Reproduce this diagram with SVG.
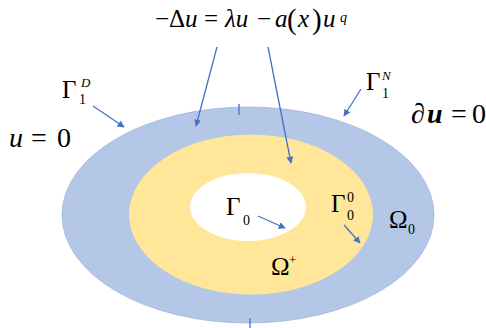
<svg xmlns="http://www.w3.org/2000/svg" width="486" height="328" viewBox="0 0 486 328">
<style>
.t{font-family:"Liberation Serif","Times New Roman",serif;fill:#000}
.i{font-style:italic}
.c{stroke:#4472c4;stroke-width:1.3;fill:none}
</style>
<defs>
<marker id="ah" viewBox="0 0 10 10" refX="9" refY="5" markerWidth="7" markerHeight="7" markerUnits="userSpaceOnUse" orient="auto">
<path d="M0,0 L10,5 L0,10 z" fill="#4472c4"/>
</marker>
</defs>
<rect width="486" height="328" fill="#fff"/>
<g id="outer"><ellipse cx="248" cy="215" rx="186" ry="108" fill="#b4c7e7" stroke="#9fb5dd" stroke-width="0.8"/></g>
<g id="inner"><ellipse cx="251" cy="214.5" rx="122" ry="80" fill="#ffe699"/></g>
<g id="hole"><ellipse cx="248" cy="207" rx="58" ry="34" fill="#fff"/></g>
<g id="equation">
<text class="t" font-size="25" y="27"><tspan x="155">−Δ</tspan><tspan class="i" x="185">u</tspan><tspan x="204">=</tspan><tspan class="i" x="225">λu</tspan><tspan x="257">−</tspan><tspan class="i" x="275">a</tspan><tspan font-size="29" x="287" y="29">(</tspan><tspan class="i" x="298" y="27">x</tspan><tspan font-size="29" x="312" y="29">)</tspan><tspan class="i" x="323" y="27">u</tspan></text>
<text class="t i" font-size="14" x="340" y="22">q</text>
</g>
<g id="bc-left"><text class="t" font-size="28" y="147"><tspan class="i" x="9">u</tspan><tspan x="31">=</tspan><tspan x="57">0</tspan></text></g>
<g id="bc-right"><text class="t" font-size="28" y="123"><tspan class="i" x="411">∂</tspan><tspan class="i" font-weight="bold" x="427">u</tspan><tspan x="451">=</tspan><tspan x="472">0</tspan></text></g>
<g id="gamma1D"><text class="t" font-size="25" x="62" y="98">Γ</text><text class="t" font-size="14" x="79" y="104">1</text><text class="t i" font-size="13" x="81" y="87">D</text></g>
<g id="gamma1N"><text class="t" font-size="25" x="366" y="90">Γ</text><text class="t" font-size="14" x="382" y="98">1</text><text class="t i" font-size="13" x="382" y="80">N</text></g>
<g id="gamma0"><text class="t" font-size="25" x="226" y="215">Γ</text><text class="t" font-size="14" x="243" y="225">0</text></g>
<g id="gamma00"><text class="t" font-size="25" x="331" y="212">Γ</text><text class="t" font-size="14" x="347" y="202">0</text><text class="t" font-size="14" x="347" y="220">0</text></g>
<g id="omega0"><text class="t" font-size="25" x="389" y="228">Ω</text><text class="t" font-size="14" x="408" y="234">0</text></g>
<g id="omegaplus"><text class="t" font-size="25" x="271" y="275">Ω</text><text class="t" font-size="13" x="289" y="264">+</text></g>
<g id="connectors">
<line class="c" x1="217" y1="47" x2="196" y2="126" marker-end="url(#ah)"/>
<line class="c" x1="268" y1="47" x2="291" y2="163" marker-end="url(#ah)"/>
<line class="c" x1="93" y1="106" x2="124" y2="127" marker-end="url(#ah)"/>
<line class="c" x1="361" y1="89" x2="344" y2="116" marker-end="url(#ah)"/>
<line class="c" x1="258" y1="216" x2="285" y2="228" marker-end="url(#ah)"/>
<line class="c" x1="344" y1="225" x2="360" y2="243" marker-end="url(#ah)"/>
<line class="c" x1="239" y1="104" x2="239" y2="115"/>
<line class="c" x1="250" y1="318" x2="250" y2="328"/>
</g>
</svg>
